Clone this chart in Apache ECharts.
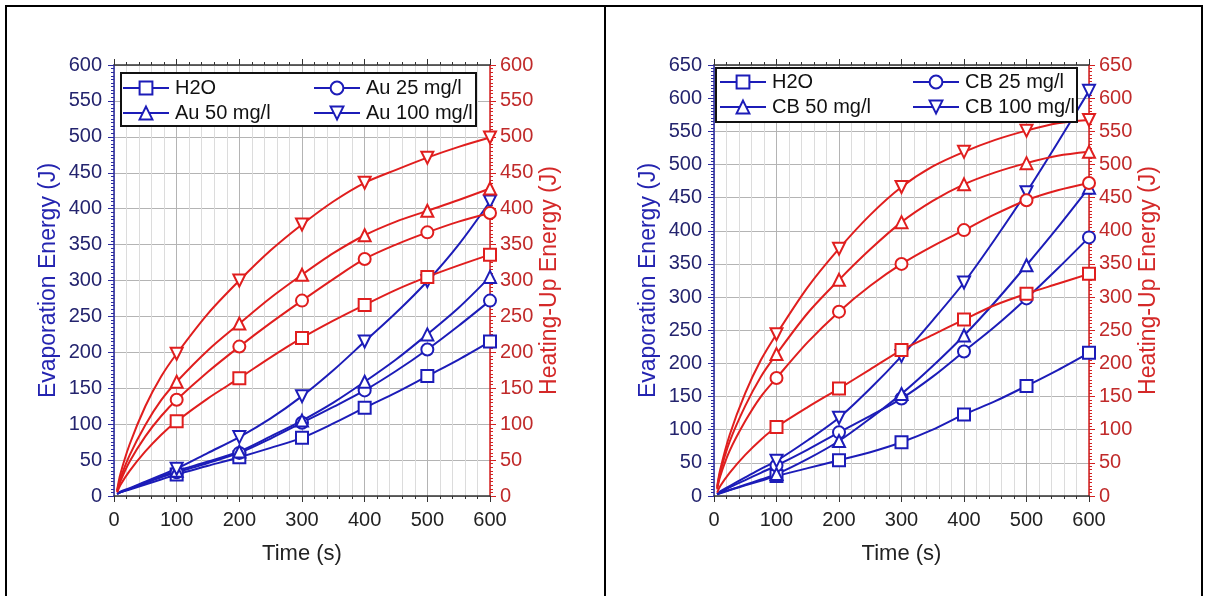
<!DOCTYPE html>
<html>
<head>
<meta charset="utf-8">
<script src="https://cdn.jsdelivr.net/npm/echarts@6/dist/echarts.min.js"></script>
<style>
  html, body { margin: 0; padding: 0; background: #fff; }
  #chart { width: 1208px; height: 596px; }
</style>
</head>
<body>
<div id="chart"></div>
<script>
// sample times (s)
var times = [5, 10, 25, 50, 75, 100, 150, 200, 250, 300, 350, 400, 450, 500, 550, 600];

// left panel: Au nanofluids
var auNames = ['H2O', 'Au 25 mg/l', 'Au 50 mg/l', 'Au 100 mg/l'];
var auEvap = [
  [3, 5, 9, 16, 23, 30, 42, 54, 67, 81, 101, 123, 144, 167, 190, 215],
  [3, 5, 10, 18, 26, 33, 46, 60, 80, 102, 124, 147, 174, 204, 237, 272],
  [3, 5, 10, 19, 27, 35, 48, 62, 83, 105, 130, 159, 190, 225, 262, 305],
  [3, 6, 11, 20, 29, 38, 60, 82, 108, 139, 175, 215, 255, 299, 350, 410]
];
var auHeat = [
  [5, 15, 35, 62, 85, 104, 136, 164, 193, 220, 244, 266, 287, 305, 321, 336],
  [6, 20, 48, 83, 111, 134, 173, 208, 241, 272, 302, 330, 350, 367, 382, 394],
  [7, 24, 57, 99, 133, 159, 203, 240, 276, 308, 338, 363, 382, 397, 412, 428],
  [8, 30, 72, 125, 166, 198, 254, 300, 342, 378, 410, 436, 454, 471, 486, 499]
];

// right panel: CB nanofluids
var cbNames = ['H2O', 'CB 25 mg/l', 'CB 50 mg/l', 'CB 100 mg/l'];
var cbEvap = [
  [3, 5, 9, 16, 23, 30, 42, 54, 66, 81, 100, 123, 143, 166, 190, 216],
  [3, 6, 13, 24, 35, 46, 70, 96, 121, 147, 180, 218, 256, 298, 343, 390],
  [2, 4, 9, 17, 25, 33, 56, 83, 117, 154, 196, 242, 293, 348, 405, 465],
  [3, 7, 15, 28, 41, 53, 84, 118, 162, 211, 265, 322, 388, 458, 533, 611]
];
var cbHeat = [
  [5, 15, 35, 62, 85, 104, 134, 162, 191, 220, 243, 266, 288, 305, 320, 335],
  [10, 30, 68, 113, 150, 178, 232, 278, 317, 350, 377, 401, 425, 446, 461, 472],
  [12, 36, 82, 136, 180, 214, 276, 326, 372, 413, 445, 470, 488, 502, 513, 519],
  [14, 40, 92, 155, 205, 244, 315, 373, 424, 466, 497, 519, 537, 551, 562, 567]
];

var symbols = ['emptyRect', 'emptyCircle', 'emptyTriangle', 'emptyTriangle'];
var rotations = [0, 0, 0, 180];
var BLUE = '#1c1cb8';
var RED = '#e01e1e';
var FONT = 'Liberation Sans, Arial, sans-serif';

function pairs(vals) {
  return times.map(function (t, i) { return [t, vals[i]]; });
}

function markerSize(v) {
  return (v[0] % 100 === 0) ? 12 : 0;
}

function makeSeries(names, evap, heat, g) {
  var out = [];
  names.forEach(function (n, i) {
    out.push({
      name: n, type: 'line', xAxisIndex: g * 2, yAxisIndex: g * 2,
      data: pairs(evap[i]), smooth: 0.3,
      symbol: symbols[i], symbolRotate: rotations[i], symbolSize: markerSize,
      showAllSymbol: true,
      lineStyle: { color: BLUE, width: 2 },
      itemStyle: { color: BLUE, borderWidth: 1.5 }
    });
  });
  names.forEach(function (n, i) {
    out.push({
      name: n, type: 'line', xAxisIndex: g * 2, yAxisIndex: g * 2 + 1,
      data: pairs(heat[i]), smooth: 0.3,
      symbol: symbols[i], symbolRotate: rotations[i], symbolSize: markerSize,
      showAllSymbol: true,
      lineStyle: { color: RED, width: 2 },
      itemStyle: { color: RED, borderWidth: 1.5 }
    });
  });
  return out;
}

function xAxes(g) {
  return [{
    type: 'value', gridIndex: g, min: 0, max: 600, interval: 100,
    name: 'Time (s)', nameLocation: 'middle', nameGap: 47,
    nameTextStyle: { fontSize: 22, color: '#222', fontFamily: FONT },
    axisLine: { onZero: false, lineStyle: { color: '#333', width: 1.5 } },
    axisTick: { length: 6, lineStyle: { color: '#333' } },
    minorTick: { show: true, splitNumber: 5, length: 3, lineStyle: { color: '#333' } },
    axisLabel: { fontSize: 20, color: '#222', fontFamily: FONT, margin: 14 },
    splitLine: { show: true, lineStyle: { color: '#b4b4b4', width: 1 } },
    minorSplitLine: { show: true, lineStyle: { color: '#dcdcdc', width: 1 } }
  }, {
    type: 'value', gridIndex: g, min: 0, max: 600, interval: 100, position: 'top',
    axisLine: { onZero: false, lineStyle: { color: '#333', width: 1.5 } },
    axisTick: { length: 6, lineStyle: { color: '#333' } },
    minorTick: { show: true, splitNumber: 5, length: 3, lineStyle: { color: '#333' } },
    axisLabel: { show: false },
    splitLine: { show: false }
  }];
}

function yAxes(g, max) {
  return [{
    type: 'value', gridIndex: g, min: 0, max: max, interval: 50, position: 'left',
    name: 'Evaporation Energy (J)', nameLocation: 'middle', nameGap: 54,
    nameTextStyle: { fontSize: 23, color: '#2424b0', fontFamily: FONT },
    axisLine: { show: true, onZero: false, lineStyle: { color: '#2a2aa0', width: 1.5 } },
    axisTick: { show: true, length: 6, lineStyle: { color: '#2a2aa0' } },
    minorTick: { show: true, splitNumber: 10, length: 3, lineStyle: { color: '#2a2aa0' } },
    axisLabel: { fontSize: 20, color: '#24246e', fontFamily: FONT, margin: 12 },
    splitLine: { show: true, lineStyle: { color: '#b4b4b4', width: 1 } }
  }, {
    type: 'value', gridIndex: g, min: 0, max: max, interval: 50, position: 'right',
    name: 'Heating-Up Energy (J)', nameLocation: 'middle', nameGap: 48, nameRotate: 90,
    nameTextStyle: { fontSize: 23, color: '#d42828', fontFamily: FONT },
    axisLine: { show: true, onZero: false, lineStyle: { color: '#d42020', width: 1.5 } },
    axisTick: { show: true, length: 6, lineStyle: { color: '#d42020' } },
    minorTick: { show: true, splitNumber: 10, length: 3, lineStyle: { color: '#d42020' } },
    axisLabel: { fontSize: 20, color: '#c02a2a', fontFamily: FONT, margin: 10 },
    splitLine: { show: false }
  }];
}

function legendCol(names, left, top) {
  return {
    data: names, orient: 'vertical', left: left, top: top, z: 60,
    itemWidth: 46, itemHeight: 16, itemGap: 5, padding: 0,
    textStyle: { fontSize: 20, color: '#111', fontFamily: FONT, padding: [0, 0, 0, 1] }
  };
}

var chart = echarts.init(document.getElementById('chart'));
chart.setOption({
  animation: false,
  backgroundColor: '#fff',
  grid: [
    { left: 114, top: 65, width: 376, height: 431 },
    { left: 714, top: 65, width: 375, height: 431 }
  ],
  xAxis: xAxes(0).concat(xAxes(1)),
  yAxis: yAxes(0, 600).concat(yAxes(1, 650)),
  legend: [
    legendCol([auNames[0], auNames[2]], 122, 78),
    legendCol([auNames[1], auNames[3]], 313, 78),
    legendCol([cbNames[0], cbNames[2]], 719, 72),
    legendCol([cbNames[1], cbNames[3]], 912, 72)
  ],
  graphic: [
    { type: 'rect', z: 50, shape: { x: 121, y: 73, width: 355, height: 53 },
      style: { fill: '#fff', stroke: '#111', lineWidth: 2 } },
    { type: 'rect', z: 50, shape: { x: 716, y: 68, width: 361, height: 54 },
      style: { fill: '#fff', stroke: '#111', lineWidth: 2 } },
    { type: 'line', z: 50, shape: { x1: 5, y1: 6, x2: 1203, y2: 6 }, style: { stroke: '#000', lineWidth: 2 } },
    { type: 'line', z: 50, shape: { x1: 6, y1: 5, x2: 6, y2: 596 }, style: { stroke: '#000', lineWidth: 2 } },
    { type: 'line', z: 50, shape: { x1: 605, y1: 5, x2: 605, y2: 596 }, style: { stroke: '#000', lineWidth: 2 } },
    { type: 'line', z: 50, shape: { x1: 1202, y1: 5, x2: 1202, y2: 596 }, style: { stroke: '#000', lineWidth: 2 } }
  ],
  series: makeSeries(auNames, auEvap, auHeat, 0).concat(makeSeries(cbNames, cbEvap, cbHeat, 1))
});
</script>
</body>
</html>
